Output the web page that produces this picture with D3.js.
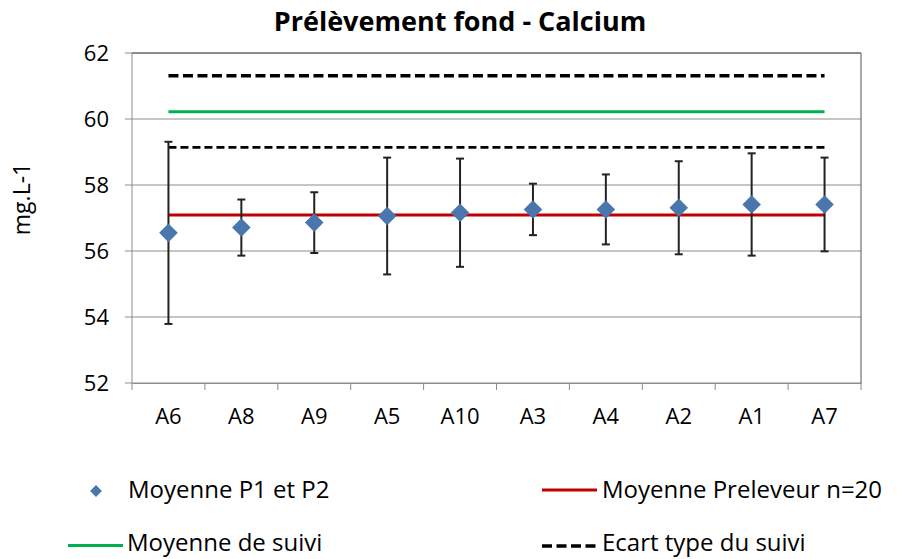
<!DOCTYPE html>
<html>
<head>
<meta charset="utf-8">
<script src="https://cdn.jsdelivr.net/npm/d3@7"></script>
<style>
  body { margin: 0; background: #fff; }
  text { font-family: "Open Sans", sans-serif; fill: #000; }
</style>
</head>
<body>
<svg width="899" height="559"></svg>
<script>
// data
var categories = ["A6", "A8", "A9", "A5", "A10", "A3", "A4", "A2", "A1", "A7"];
var moyenne = [56.55, 56.71, 56.86, 57.06, 57.16, 57.26, 57.26, 57.31, 57.41, 57.41];
var ecart = [2.76, 0.85, 0.92, 1.77, 1.64, 0.78, 1.06, 1.41, 1.55, 1.42];
var moyennePreleveur = 57.09;
var moyenneSuivi = 60.22;
var ecartSuivi = [59.14, 61.31];
var yTicks = [52, 54, 56, 58, 60, 62];

var svg = d3.select("svg");
var pLeft = 132, pRight = 861, pTop = 53, pBottom = 383;

var x = d3.scaleBand().domain(categories).range([pLeft, pRight]);
var y = d3.scaleLinear().domain([52, 62]).range([pBottom, pTop]);

// title
svg.append("text")
   .attr("x", 460)
   .attr("y", 31)
   .attr("text-anchor", "middle")
   .attr("font-size", "27px")
   .attr("font-weight", "bold")
   .text("Prélèvement fond - Calcium");

// grid lines
svg.append("g")
   .selectAll("line")
   .data(yTicks)
   .enter()
   .append("line")
   .attr("x1", pLeft - 7)
   .attr("x2", pRight)
   .attr("y1", function(d) { return y(d); })
   .attr("y2", function(d) { return y(d); })
   .attr("stroke", "#8c8c8c")
   .attr("stroke-width", 1);

// plot border
svg.append("line").attr("x1", pLeft).attr("x2", pLeft).attr("y1", pTop).attr("y2", pBottom)
   .attr("stroke", "#8c8c8c");
svg.append("line").attr("x1", pRight).attr("x2", pRight).attr("y1", pTop).attr("y2", pBottom)
   .attr("stroke", "#555");
svg.append("line").attr("x1", pLeft).attr("x2", pRight).attr("y1", pTop).attr("y2", pTop)
   .attr("stroke", "#555");

// y labels
svg.append("g")
   .selectAll("text")
   .data(yTicks)
   .enter()
   .append("text")
   .attr("x", 109)
   .attr("y", function(d) { return y(d); })
   .attr("dy", "0.35em")
   .attr("text-anchor", "end")
   .attr("font-size", "22px")
   .attr("fill", "#222")
   .text(function(d) { return d; });

svg.append("text")
   .attr("transform", "translate(30," + 199 + ") rotate(-90)")
   .attr("text-anchor", "middle")
   .attr("font-size", "23px")
   .text("mg.L-1");

// x axis
var xAxis = d3.axisBottom(x).tickSize(0).tickPadding(25);
var gx = svg.append("g")
   .attr("transform", "translate(0," + pBottom + ")")
   .call(xAxis);
gx.select(".domain").attr("stroke", "#8c8c8c");
gx.selectAll("text")
  .attr("font-size", "22px")
  .attr("font-family", "Open Sans")
  .attr("fill", "#222");

// boundary ticks
var bounds = categories.map(function(c) { return x(c); }).concat([pRight]);
svg.append("g")
   .selectAll("line")
   .data(bounds)
   .enter()
   .append("line")
   .attr("x1", function(d) { return d; })
   .attr("x2", function(d) { return d; })
   .attr("y1", pBottom)
   .attr("y2", pBottom + 7)
   .attr("stroke", "#8c8c8c");

var cx = function(c) { return x(c) + x.bandwidth() / 2; };
var x0 = cx(categories[0]), x1 = cx(categories[categories.length - 1]);

// reference lines
svg.append("line")
   .attr("x1", x0).attr("x2", x1)
   .attr("y1", y(ecartSuivi[1])).attr("y2", y(ecartSuivi[1]))
   .attr("stroke", "#000").attr("stroke-width", 3.5)
   .attr("stroke-dasharray", "10,4.5");
svg.append("line")
   .attr("x1", x0).attr("x2", x1)
   .attr("y1", y(moyenneSuivi)).attr("y2", y(moyenneSuivi))
   .attr("stroke", "#00B050").attr("stroke-width", 3);
svg.append("line")
   .attr("x1", x0).attr("x2", x1)
   .attr("y1", y(ecartSuivi[0])).attr("y2", y(ecartSuivi[0]))
   .attr("stroke", "#000").attr("stroke-width", 2.8)
   .attr("stroke-dasharray", "8,4");
svg.append("line")
   .attr("x1", x0).attr("x2", x1)
   .attr("y1", y(moyennePreleveur)).attr("y2", y(moyennePreleveur))
   .attr("stroke", "#C00000").attr("stroke-width", 3);

// error bars
var pts = categories.map(function(c, i) { return { cat: c, v: moyenne[i], e: ecart[i] }; });
var eb = svg.append("g").selectAll("g").data(pts).enter().append("g");
eb.append("line")
  .attr("x1", function(d) { return cx(d.cat); })
  .attr("x2", function(d) { return cx(d.cat); })
  .attr("y1", function(d) { return y(d.v + d.e); })
  .attr("y2", function(d) { return y(d.v - d.e); })
  .attr("stroke", "#222").attr("stroke-width", 2);
eb.append("line")
  .attr("x1", function(d) { return cx(d.cat) - 4; })
  .attr("x2", function(d) { return cx(d.cat) + 4; })
  .attr("y1", function(d) { return y(d.v + d.e); })
  .attr("y2", function(d) { return y(d.v + d.e); })
  .attr("stroke", "#222").attr("stroke-width", 2);
eb.append("line")
  .attr("x1", function(d) { return cx(d.cat) - 4; })
  .attr("x2", function(d) { return cx(d.cat) + 4; })
  .attr("y1", function(d) { return y(d.v - d.e); })
  .attr("y2", function(d) { return y(d.v - d.e); })
  .attr("stroke", "#222").attr("stroke-width", 2);

// diamonds
var diamond = d3.symbol().type(d3.symbolDiamond2).size(220);
svg.append("g")
   .selectAll("path")
   .data(pts)
   .enter()
   .append("path")
   .attr("d", diamond)
   .attr("transform", function(d) { return "translate(" + cx(d.cat) + "," + y(d.v) + ")"; })
   .attr("fill", "#4A76AE");

// legend
var lg = svg.append("g");
lg.append("path")
  .attr("d", d3.symbol().type(d3.symbolDiamond2).size(90))
  .attr("transform", "translate(96,491)")
  .attr("fill", "#4A76AE");
lg.append("text").attr("x", 128).attr("y", 498).attr("font-size", "24px").text("Moyenne P1 et P2");

lg.append("line").attr("x1", 68).attr("x2", 123).attr("y1", 545.5).attr("y2", 545.5)
  .attr("stroke", "#00B050").attr("stroke-width", 3);
lg.append("text").attr("x", 127).attr("y", 551).attr("font-size", "24px").text("Moyenne de suivi");

lg.append("line").attr("x1", 542).attr("x2", 597).attr("y1", 490).attr("y2", 490)
  .attr("stroke", "#C00000").attr("stroke-width", 3);
lg.append("text").attr("x", 602).attr("y", 498).attr("font-size", "24px").text("Moyenne Preleveur n=20");

lg.append("line").attr("x1", 542).attr("x2", 597).attr("y1", 546).attr("y2", 546)
  .attr("stroke", "#000").attr("stroke-width", 3.5)
  .attr("stroke-dasharray", "10,4.5");
lg.append("text").attr("x", 602).attr("y", 551).attr("font-size", "24px").text("Ecart type du suivi");
</script>
</body>
</html>
